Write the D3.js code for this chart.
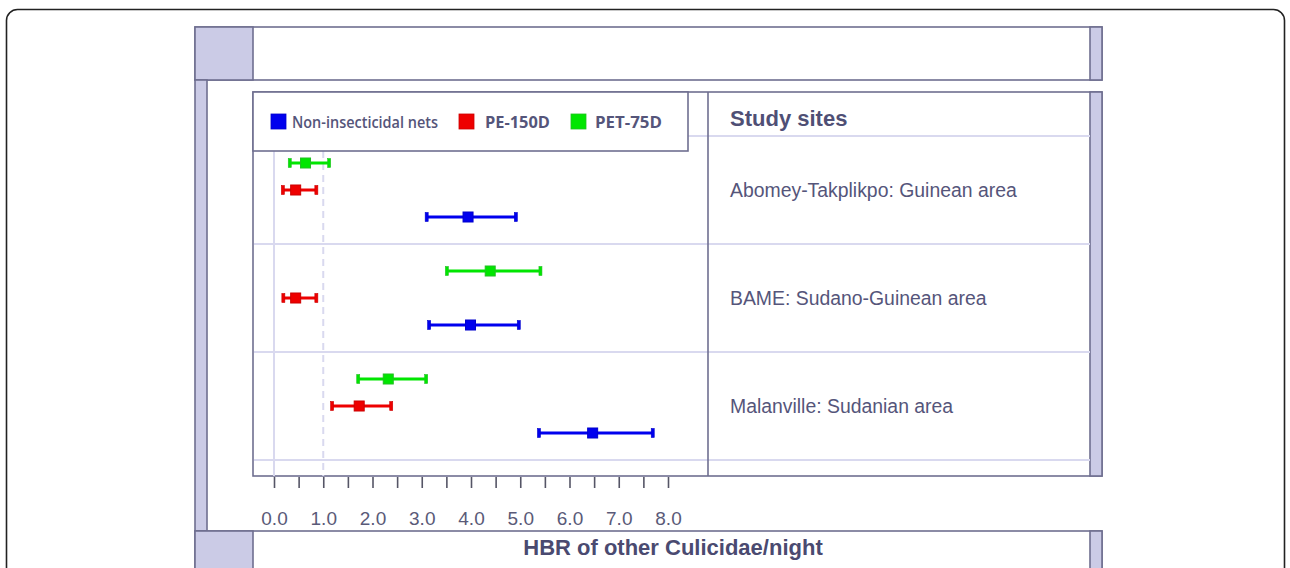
<!DOCTYPE html>
<html>
<head>
<meta charset="utf-8">
<script src="https://cdn.jsdelivr.net/npm/d3@7"></script>
<style>
  html, body { margin: 0; padding: 0; background: #fff; }
  svg { display: block; }
</style>
</head>
<body>
<svg id="chart" width="1290" height="568"></svg>
<script>
// ---------- DATA ----------
const sites = ["Abomey-Takplikpo: Guinean area", "BAME: Sudano-Guinean area", "Malanville: Sudanian area"];
const seriesNames = ["Non-insecticidal nets", "PE-150D", "PET-75D"];
const rowOrder = ["PET-75D", "PE-150D", "Non-insecticidal nets"];   // top to bottom inside each site
const nonMean = [3.94, 3.99, 6.47];
const nonLow  = [3.10, 3.15, 5.38];
const nonHigh = [4.91, 4.97, 7.69];
const peMean  = [0.44, 0.44, 1.73];
const peLow   = [0.18, 0.19, 1.18];
const peHigh  = [0.86, 0.86, 2.38];
const petMean = [0.64, 4.39, 2.32];
const petLow  = [0.32, 3.51, 1.71];
const petHigh = [1.12, 5.41, 3.09];
const tickValues = [0, 0.5, 1, 1.5, 2, 2.5, 3, 3.5, 4, 4.5, 5, 5.5, 6, 6.5, 7, 7.5, 8];
const tickLabels = ["0.0", "1.0", "2.0", "3.0", "4.0", "5.0", "6.0", "7.0", "8.0"];
const xTitle = "HBR of other Culicidae/night";
const sitesTitle = "Study sites";
const refValue = 1;

// ---------- STYLE ----------
const frame = "#6f6f90";
const lav = "#cbcbe6";
const grid = "#d9d9ef";
const textCol = "#55557a";
const fills  = { "Non-insecticidal nets": "#0000ee", "PE-150D": "#ee0000", "PET-75D": "#00e600" };
const strokes = { "Non-insecticidal nets": "#0000cc", "PE-150D": "#cc0000", "PET-75D": "#22c022" };

const svg = d3.select("#chart");

// outer rounded border
svg.append("rect").attr("x", 6.5).attr("y", 9.5).attr("width", 1278).attr("height", 600)
  .attr("rx", 11).attr("fill", "none").attr("stroke", "#222").attr("stroke-width", 1.6);

// layout frame
const L = 195, R = 1102, strip = 12;
const panel = { left: 253, top: 92, right: 1102, bottom: 476, divider: 708 };

function box(x, y, w, h, fill) {
  svg.append("rect").attr("x", x).attr("y", y).attr("width", w).attr("height", h)
    .attr("fill", fill).attr("stroke", frame).attr("stroke-width", 1.6);
}
// top box
box(L, 27, R - L, 53, "#fff");
box(L, 27, panel.left - L, 53, lav);
box(R - strip, 27, strip, 53, lav);
// left strip middle
box(L, 80, strip, 451, lav);
// bottom box
box(L, 531, R - L, 60, "#fff");
box(L, 531, panel.left - L, 60, lav);
box(R - strip, 531, strip, 60, lav);

// main panel
box(panel.left, panel.top, panel.right - panel.left, panel.bottom - panel.top, "#fff");
box(R - strip, panel.top, strip, panel.bottom - panel.top, lav);

// ---------- SCALES ----------
const x = d3.scaleLinear().domain([0, 8]).range([274, 668]);
const yBand = d3.scaleBand().domain(sites).range([136, 460]).padding(0);
const yRow = d3.scalePoint().domain(rowOrder).range([27, 81]);

// horizontal separators
svg.append("g").selectAll("line").data(sites.map(s => yBand(s)).concat([yBand(sites[2]) + yBand.bandwidth()]))
  .join("line")
  .attr("x1", panel.left + 1).attr("x2", R - strip)
  .attr("y1", d => d).attr("y2", d => d)
  .attr("stroke", grid).attr("stroke-width", 2);

// divider
svg.append("line").attr("x1", panel.divider).attr("x2", panel.divider)
  .attr("y1", panel.top).attr("y2", panel.bottom).attr("stroke", frame).attr("stroke-width", 1.6);

// vertical grid at 0 and dashed at 1
svg.append("line").attr("x1", x(0)).attr("x2", x(0)).attr("y1", 151).attr("y2", panel.bottom)
  .attr("stroke", grid).attr("stroke-width", 2);
svg.append("line").attr("x1", x(refValue)).attr("x2", x(refValue)).attr("y1", 151).attr("y2", panel.bottom)
  .attr("stroke", grid).attr("stroke-width", 2).attr("stroke-dasharray", "7,5");

// ---------- DATA MARKS ----------
const rows = [];
sites.forEach((s, i) => {
  rows.push({ site: s, series: "Non-insecticidal nets", mean: nonMean[i], lo: nonLow[i], hi: nonHigh[i] });
  rows.push({ site: s, series: "PE-150D", mean: peMean[i], lo: peLow[i], hi: peHigh[i] });
  rows.push({ site: s, series: "PET-75D", mean: petMean[i], lo: petLow[i], hi: petHigh[i] });
});
const yOf = d => yBand(d.site) + yRow(d.series);

const g = svg.append("g");
rows.forEach(d => {
  const yy = yOf(d);
  const col = fills[d.series];
  const sc = strokes[d.series];
  g.append("line").attr("x1", x(d.lo)).attr("x2", x(d.hi)).attr("y1", yy).attr("y2", yy)
    .attr("stroke", col).attr("stroke-width", 3);
  [d.lo, d.hi].forEach(v => {
    g.append("rect").attr("x", x(v) - 1.5).attr("y", yy - 4.5).attr("width", 3).attr("height", 9)
      .attr("fill", col).attr("stroke", sc).attr("stroke-width", 0.6);
  });
  g.append("rect").attr("x", x(d.mean) - 5).attr("y", yy - 5).attr("width", 10).attr("height", 10)
    .attr("fill", col).attr("stroke", sc).attr("stroke-width", 1);
});

// ---------- LEGEND ----------
box(panel.left, panel.top, 435, 59, "#fff");
const legendItems = [
  { name: "Non-insecticidal nets", sx: 271, tx: 292, w: 146, weight: 600 },
  { name: "PE-150D", sx: 459, tx: 485, w: 65, weight: 700 },
  { name: "PET-75D", sx: 571, tx: 595, w: 67, weight: 700 }
];
legendItems.forEach(it => {
  svg.append("rect").attr("x", it.sx).attr("y", 114).attr("width", 15).attr("height", 15)
    .attr("fill", fills[it.name]).attr("stroke", strokes[it.name]).attr("stroke-width", 0.8);
  svg.append("text").attr("x", it.tx).attr("y", 128).text(it.name)
    .attr("font-family", "'Open Sans', 'Noto Sans', sans-serif").attr("font-weight", it.weight)
    .attr("font-size", 15.5).attr("fill", textCol)
    .attr("textLength", it.w).attr("lengthAdjust", "spacingAndGlyphs");
});

// ---------- RIGHT LABELS ----------
svg.append("text").attr("x", 730).attr("y", 126).text(sitesTitle)
  .attr("font-family", "'Liberation Sans', Arial, sans-serif").attr("font-weight", "bold")
  .attr("font-size", 22).attr("fill", "#4f4f75");
svg.append("g").selectAll("text").data(sites).join("text")
  .attr("x", 730).attr("y", d => yBand(d) + yBand.bandwidth() / 2 + 7)
  .text(d => d)
  .attr("font-family", "'Liberation Sans', Arial, sans-serif")
  .attr("font-size", 19.4).attr("fill", textCol);

// ---------- X AXIS ----------
const axis = d3.axisBottom(x).tickValues(tickValues).tickSize(11).tickPadding(24)
  .tickFormat(v => Number.isInteger(v) ? tickLabels[v] : "");
const ax = svg.append("g").attr("transform", `translate(0,${panel.bottom + 1})`).call(axis);
ax.select(".domain").remove();
ax.selectAll(".tick line").attr("stroke", "#555566").attr("stroke-width", 1.6);
ax.selectAll(".tick text").attr("font-family", "'Liberation Sans', Arial, sans-serif")
  .attr("font-size", 19).attr("fill", "#5a5a78");

svg.append("text").attr("x", 673).attr("y", 555).attr("text-anchor", "middle").text(xTitle)
  .attr("font-family", "'Liberation Sans', Arial, sans-serif").attr("font-weight", "bold")
  .attr("font-size", 22).attr("fill", "#4a4a70");
</script>
</body>
</html>
